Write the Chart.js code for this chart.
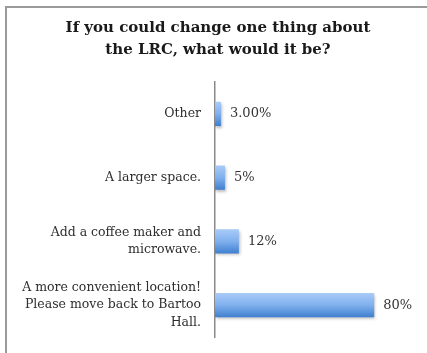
<!DOCTYPE html>
<html><head><meta charset="utf-8">
<script src="https://cdn.jsdelivr.net/npm/chart.js@4"></script>
<style>
html,body{margin:0;padding:0;background:#fff;}
#wrap{position:relative;width:427px;height:353px;overflow:hidden;}
#frame{position:absolute;left:5px;top:6px;width:440px;height:370px;border-left:2px solid #9a9a9a;border-top:2px solid #9a9a9a;box-sizing:border-box;}
canvas{position:absolute;left:0;top:0;}
</style></head>
<body><div id="wrap"><div id="frame"></div><canvas id="c" width="427" height="353"></canvas></div>
<script>
const titleLines = ["If you could change one thing about", "the LRC, what would it be?"];
const categories = [
  ["Other"],
  ["A larger space."],
  ["Add a coffee maker and", "microwave."],
  ["A more convenient location!", "Please move back to Bartoo", "Hall."]
];
const values = [3, 5, 12, 80];
const valueLabels = ["3.00%", "5%", "12%", "80%"];
const xMin = 0, xMax = 100;

const serif = "'DejaVu Serif', 'Liberation Serif', serif";
const BAR_PCT = 0.38;

function barGradient(context) {
  const chart = context.chart;
  const ys = chart.scales && chart.scales.y;
  if (!chart.chartArea || !ys) return '#6a9fe3';
  const yc = ys.getPixelForValue(context.dataIndex);
  const h = (chart.chartArea.bottom - chart.chartArea.top) / categories.length * BAR_PCT;
  const g = chart.ctx.createLinearGradient(0, yc - h / 2, 0, yc + h / 2);
  g.addColorStop(0, '#a9cbf7');
  g.addColorStop(0.5, '#80b0ee');
  g.addColorStop(1, '#3f7fd0');
  return g;
}

const shadowPlugin = {
  id: 'shadow',
  beforeDatasetsDraw(chart) {
    const ctx = chart.ctx;
    ctx.save();
    ctx.shadowColor = 'rgba(0,0,0,0.28)';
    ctx.shadowBlur = 3;
    ctx.shadowOffsetX = 1;
    ctx.shadowOffsetY = 2;
  },
  afterDatasetsDraw(chart) {
    chart.ctx.restore();
  }
};

const titlePlugin = {
  id: 'centeredTitle',
  afterDraw(chart) {
    const ctx = chart.ctx;
    ctx.save();
    ctx.font = "bold 15px " + serif;
    ctx.fillStyle = '#1a1a1a';
    ctx.textAlign = 'center';
    ctx.textBaseline = 'middle';
    titleLines.forEach((line, i) => ctx.fillText(line, 218, 28.5 + i * 22));
    ctx.restore();
  }
};

const valueLabelPlugin = {
  id: 'valueLabels',
  afterDatasetsDraw(chart) {
    const ctx = chart.ctx;
    const meta = chart.getDatasetMeta(0);
    ctx.save();
    ctx.font = "13px " + serif;
    ctx.fillStyle = '#333';
    ctx.textAlign = 'left';
    ctx.textBaseline = 'middle';
    meta.data.forEach((bar, i) => {
      ctx.fillText(valueLabels[i], bar.x + 9, bar.y);
    });
    ctx.restore();
  }
};

new Chart(document.getElementById('c'), {
  type: 'bar',
  data: {
    labels: categories,
    datasets: [{
      data: values,
      backgroundColor: barGradient,
      borderWidth: 0,
      categoryPercentage: 1,
      barPercentage: BAR_PCT
    }]
  },
  options: {
    indexAxis: 'y',
    responsive: false,
    animation: false,
    layout: { padding: { top: 82, bottom: 16, left: 0, right: 13 } },
    plugins: {
      legend: { display: false },
      tooltip: { enabled: false },
      title: { display: false }
    },
    scales: {
      x: { display: false, min: xMin, max: xMax },
      y: {
        grid: { display: false, drawTicks: false },
        border: { display: true, color: '#8a8a8a', width: 1.5 },
        ticks: {
          color: '#2e2e2e',
          padding: 14,
          font: { family: serif, size: 12.5, lineHeight: 1.4 }
        },
        afterFit(scale) {
          scale.width = 215;
          scale.paddingTop = 0;
          scale.paddingBottom = 0;
        }
      }
    }
  },
  plugins: [shadowPlugin, valueLabelPlugin, titlePlugin]
});
</script>
</body></html>
